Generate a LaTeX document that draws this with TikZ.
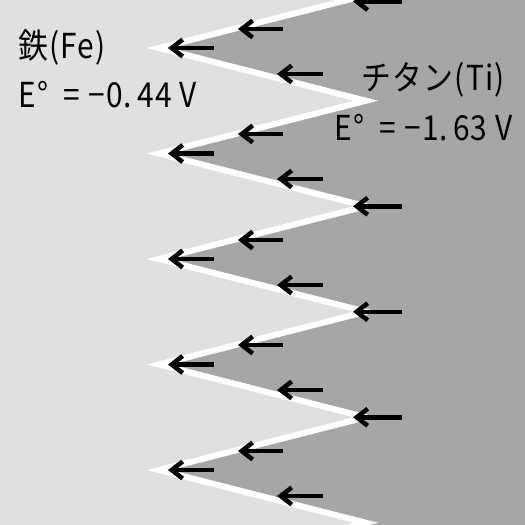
\documentclass[tikz,border=0pt]{standalone}
\usepackage{fontspec}
\setmainfont{Noto Sans CJK JP}
\usepackage{graphicx}
\usepackage{tikz}
\usetikzlibrary{positioning}
\usetikzlibrary{arrows.meta}
\definecolor{ironbg}{HTML}{E0E0E0}
\definecolor{titanbg}{HTML}{A6A6A6}
\newcommand{\tallText}[1]{\scalebox{1}[1.15]{\addfontfeatures{LetterSpace=4}#1}}

\begin{document}
\begin{tikzpicture}[flow/.style={-{Straight Barb[length=2.2mm, width=3.4mm]}, line width=0.09cm},
				metal/.style={font=\fontsize{17}{20}\selectfont, inner sep=0pt}]

				\useasboundingbox (0,0) rectangle (10.5,-10.5);
				\clip (0,0) rectangle (10.5,-10.5);
				\fill[ironbg] (0,0) rectangle (10.5,-10.5);

				% titanium side and the white seam between the metals
				\fill[titanbg] (3.18,1.15) foreach \k in {0,...,5} { -- (7.32,{0.095-2.11*\k}) -- (3.18,{-0.96-2.11*\k}) } -- (11,-11.51) -- (11,1.15) -- cycle;
				\draw[white, line width=0.12cm, miter limit=10] (3.18,1.15) foreach \k in {0,...,5} { -- (7.32,{0.095-2.11*\k}) -- (3.18,{-0.96-2.11*\k}) };

				% electron flow from titanium to iron
				\foreach \y in {-0.96,-3.07,-5.18,-7.29,-9.40} \draw[flow] (4.28,\y) -- (3.36,\y);
				\foreach \y in {-0.03,-4.125,-6.235,-8.345} \draw[flow] (8.04,\y) -- (7.06,\y);
				\foreach \y in {-0.58,-2.68,-4.80,-6.90,-9.02} \draw[flow] (5.66,\y) -- (4.76,\y);
				\foreach \y in {-1.48,-3.58,-5.70,-7.80,-9.92} \draw[flow] (6.46,\y) -- (5.54,\y);

				\node[metal, anchor=west] (fe) at (0.36,-0.94) {\tallText{鉄(Fe)}};
				\node[metal, below=0.96cm of fe.west, anchor=west] (fepot) {\tallText{E°\ \ = −0.\,44\ V}};
				\node[metal, anchor=east] (ti) at (10.1,-1.6) {\tallText{チタン(Ti)}};
				\node[metal, below=0.96cm of ti.east, anchor=east, xshift=0.16cm] (tipot) {\tallText{E°\ \ = −1.\,63\ V}};

			\end{tikzpicture}
\end{document}
